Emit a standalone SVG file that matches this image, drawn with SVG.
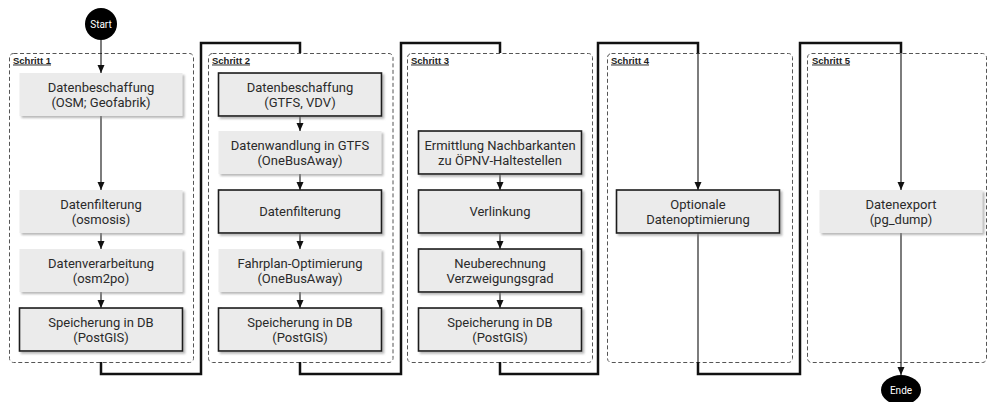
<svg xmlns="http://www.w3.org/2000/svg" width="991" height="402" viewBox="0 0 991 402">
<defs>
<style>
.grp{fill:none;stroke:#555;stroke-width:1;stroke-dasharray:4 2.5}
.lbl{font-family:"Liberation Sans",Arial,sans-serif;font-weight:bold;font-size:9.5px;fill:#222;text-decoration:underline}
.n{fill:#ebebeb;filter:url(#sh)}
.nb{fill:#ebebeb;stroke:#1a1a1a;stroke-width:1.6;filter:url(#sh)}
.t{font-family:Roboto,"Liberation Sans",sans-serif;font-size:13px;fill:#2a2a2a;text-anchor:middle}
.thin{fill:none;stroke:#111;stroke-width:1.1}
.thick{fill:none;stroke:#111;stroke-width:2.5}
.term{fill:#000}
.tt{font-family:Roboto,"Liberation Sans",sans-serif;font-size:10px;fill:#fff;text-anchor:middle}
</style>
<filter id="sh" x="-10%" y="-20%" width="130%" height="150%">
<feDropShadow dx="2" dy="2" stdDeviation="1" flood-color="#888" flood-opacity="0.6"/>
</filter>
<marker id="ar" viewBox="0 0 8 8" refX="8" refY="4" markerWidth="8" markerHeight="8" markerUnits="userSpaceOnUse" orient="auto">
<path d="M0,0.5 L8,4 L0,7.5 z" fill="#111"/>
</marker>
</defs>

<g id="groups">
<g id="schritt1"><rect class="grp" x="9.5" y="53.5" width="184" height="309" rx="4"/><text class="lbl" x="13" y="63.5">Schritt 1</text></g>
<g id="schritt2"><rect class="grp" x="208.5" y="53.5" width="184.5" height="309" rx="4"/><text class="lbl" x="212" y="63.5">Schritt 2</text></g>
<g id="schritt3"><rect class="grp" x="407.5" y="53.5" width="185" height="309" rx="4"/><text class="lbl" x="411" y="63.5">Schritt 3</text></g>
<g id="schritt4"><rect class="grp" x="607.5" y="53.5" width="185" height="309" rx="4"/><text class="lbl" x="611" y="63.5">Schritt 4</text></g>
<g id="schritt5"><rect class="grp" x="807.5" y="53.5" width="179" height="309" rx="4"/><text class="lbl" x="812" y="63.5">Schritt 5</text></g>
</g>

<g id="connectors">
<line class="thin" x1="101" y1="40" x2="101" y2="73" marker-end="url(#ar)"/>
<line class="thin" x1="101" y1="116" x2="101" y2="190" marker-end="url(#ar)"/>
<line class="thin" x1="101" y1="233" x2="101" y2="249" marker-end="url(#ar)"/>
<line class="thin" x1="101" y1="292" x2="101" y2="308" marker-end="url(#ar)"/>
<line class="thin" x1="300" y1="116" x2="300" y2="131" marker-end="url(#ar)"/>
<line class="thin" x1="300" y1="174" x2="300" y2="190" marker-end="url(#ar)"/>
<line class="thin" x1="300" y1="233" x2="300" y2="249" marker-end="url(#ar)"/>
<line class="thin" x1="300" y1="292" x2="300" y2="308" marker-end="url(#ar)"/>
<line class="thin" x1="500" y1="174" x2="500" y2="190" marker-end="url(#ar)"/>
<line class="thin" x1="500" y1="233" x2="500" y2="249" marker-end="url(#ar)"/>
<line class="thin" x1="500" y1="292" x2="500" y2="308" marker-end="url(#ar)"/>
<line class="thin" x1="698" y1="53" x2="698" y2="190" marker-end="url(#ar)"/>
<line class="thin" x1="698" y1="233" x2="698" y2="362"/>
<line class="thin" x1="901" y1="53" x2="901" y2="190" marker-end="url(#ar)"/>
<line class="thin" x1="901" y1="233" x2="901" y2="375" marker-end="url(#ar)"/>
<path class="thick" d="M101,362 V374 H201 V43 H300 V53"/>
<path class="thick" d="M300,362 V374 H401 V43 H500 V53"/>
<path class="thick" d="M500,362 V374 H598 V43 H698 V53"/>
<path class="thick" d="M698,362 V374 H800 V43 H901 V53"/>
</g>

<g id="start"><circle class="term" cx="101" cy="24" r="16"/><text class="tt" x="101" y="27.5">Start</text></g>
<g id="ende"><ellipse class="term" cx="901" cy="390" rx="20" ry="15"/><text class="tt" x="901" y="393.5">Ende</text></g>

<g id="s1n1"><rect class="n" x="19.5" y="73" width="163" height="43"/><text class="t" x="101" y="92">Datenbeschaffung</text><text class="t" x="101" y="107">(OSM; Geofabrik)</text></g>
<g id="s1n2"><rect class="n" x="19.5" y="190" width="163" height="43"/><text class="t" x="101" y="209">Datenfilterung</text><text class="t" x="101" y="224">(osmosis)</text></g>
<g id="s1n3"><rect class="n" x="19.5" y="249" width="163" height="43"/><text class="t" x="101" y="268">Datenverarbeitung</text><text class="t" x="101" y="283">(osm2po)</text></g>
<g id="s1n4"><rect class="nb" x="19.5" y="308" width="163" height="43"/><text class="t" x="101" y="327">Speicherung in DB</text><text class="t" x="101" y="342">(PostGIS)</text></g>

<g id="s2n1"><rect class="nb" x="218.5" y="73" width="163" height="43"/><text class="t" x="300" y="92">Datenbeschaffung</text><text class="t" x="300" y="107">(GTFS, VDV)</text></g>
<g id="s2n2"><rect class="n" x="218.5" y="131" width="163" height="43"/><text class="t" x="300" y="150">Datenwandlung in GTFS</text><text class="t" x="300" y="165">(OneBusAway)</text></g>
<g id="s2n3"><rect class="nb" x="218.5" y="190" width="163" height="43"/><text class="t" x="300" y="216">Datenfilterung</text></g>
<g id="s2n4"><rect class="n" x="218.5" y="249" width="163" height="43"/><text class="t" x="300" y="268">Fahrplan-Optimierung</text><text class="t" x="300" y="283">(OneBusAway)</text></g>
<g id="s2n5"><rect class="nb" x="218.5" y="308" width="163" height="43"/><text class="t" x="300" y="327">Speicherung in DB</text><text class="t" x="300" y="342">(PostGIS)</text></g>

<g id="s3n1"><rect class="nb" x="418.5" y="131" width="163" height="43"/><text class="t" x="500" y="150">Ermittlung Nachbarkanten</text><text class="t" x="500" y="165">zu ÖPNV-Haltestellen</text></g>
<g id="s3n2"><rect class="nb" x="418.5" y="190" width="163" height="43"/><text class="t" x="500" y="216">Verlinkung</text></g>
<g id="s3n3"><rect class="nb" x="418.5" y="249" width="163" height="43"/><text class="t" x="500" y="268">Neuberechnung</text><text class="t" x="500" y="283">Verzweigungsgrad</text></g>
<g id="s3n4"><rect class="nb" x="418.5" y="308" width="163" height="43"/><text class="t" x="500" y="327">Speicherung in DB</text><text class="t" x="500" y="342">(PostGIS)</text></g>

<g id="s4n1"><rect class="nb" x="616.5" y="190" width="163" height="43"/><text class="t" x="698" y="209">Optionale</text><text class="t" x="698" y="224">Datenoptimierung</text></g>

<g id="s5n1"><rect class="n" x="819.5" y="190" width="163" height="43"/><text class="t" x="901" y="209">Datenexport</text><text class="t" x="901" y="224">(pg_dump)</text></g>
</svg>
